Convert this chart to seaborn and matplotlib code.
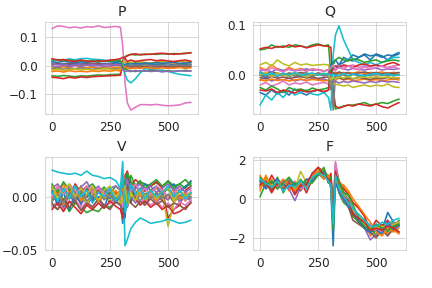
import pandas as pd
import seaborn as sns
import matplotlib.pyplot as plt

# shared time axis (samples, denser round the step at ~300)
TIME = [0, 25, 50, 75, 100, 125, 150, 175, 200, 225, 250, 275, 295, 305,
        315, 325, 340, 360, 380, 400, 425, 450, 475, 500, 525, 550, 575, 599]

# ---- P ----
P_BLUE = [0.01, 0.005, 0.008, 0.004, 0.006, 0.01, 0.005, 0.007, 0.004, 0.008, 0.006, 0.01, 0.008, -0.01, -0.005, -0.002, 0.0, 0.004, 0.002, 0.005, 0.003, 0.006, 0.004, 0.002, 0.005, 0.003, 0.006, 0.004]
P_ORANGE = [-0.005, -0.008, -0.004, -0.006, -0.01, -0.005, -0.007, -0.004, -0.008, -0.006, -0.003, -0.006, -0.005, 0.01, 0.012, 0.008, 0.01, 0.009, 0.011, 0.008, 0.01, 0.012, 0.009, 0.011, 0.01, 0.008, 0.012, 0.01]
P_GREEN = [-0.035, -0.037, -0.034, -0.036, -0.038, -0.035, -0.036, -0.034, -0.032, -0.033, -0.031, -0.03, -0.03, 0.02, 0.032, 0.036, 0.04, 0.038, 0.04, 0.039, 0.041, 0.04, 0.042, 0.041, 0.043, 0.042, 0.044, 0.045]
P_RED = [-0.04, -0.042, -0.045, -0.04, -0.043, -0.039, -0.041, -0.038, -0.037, -0.036, -0.035, -0.034, -0.033, 0.015, 0.03, 0.035, 0.04, 0.042, 0.038, 0.041, 0.04, 0.043, 0.044, 0.042, 0.04, 0.042, 0.043, 0.046]
P_PURPLE = [0.0, -0.004, 0.002, -0.003, 0.001, -0.002, 0.003, -0.001, 0.002, -0.003, 0.0, 0.002, 0.001, -0.012, -0.008, -0.01, -0.006, -0.008, -0.005, -0.007, -0.006, -0.004, -0.006, -0.005, -0.007, -0.004, -0.006, -0.005]
P_BROWN = [0.005, 0.008, 0.004, 0.009, 0.006, 0.003, 0.007, 0.005, 0.008, 0.004, 0.006, 0.003, 0.005, -0.008, -0.004, 0.0, -0.003, -0.001, -0.004, -0.002, 0.0, -0.003, -0.001, -0.002, -0.004, 0.0, -0.002, -0.001]
P_PINK = [0.13, 0.14, 0.138, 0.133, 0.136, 0.132, 0.137, 0.135, 0.14, 0.134, 0.136, 0.138, 0.135, 0.07, -0.06, -0.13, -0.155, -0.145, -0.136, -0.136, -0.137, -0.135, -0.138, -0.14, -0.139, -0.137, -0.13, -0.128]
P_GREY = [-0.01, -0.008, -0.012, -0.009, -0.011, -0.007, -0.01, -0.012, -0.008, -0.01, -0.009, -0.011, -0.01, 0.006, 0.002, 0.004, 0.0, 0.003, 0.001, 0.004, 0.002, 0.0, 0.003, 0.001, 0.002, 0.004, 0.001, 0.003]
P_OLIVE = [-0.015, -0.012, -0.016, -0.013, -0.011, -0.014, -0.012, -0.015, -0.013, -0.01, -0.012, -0.014, -0.012, 0.012, 0.015, 0.01, 0.013, 0.011, 0.014, 0.012, 0.01, 0.013, 0.015, 0.012, 0.014, 0.016, 0.013, 0.015]
P_CYAN = [0.02, 0.022, 0.02, 0.024, 0.021, 0.025, 0.026, 0.023, 0.022, 0.02, 0.018, 0.016, 0.015, 0.005, -0.03, -0.05, -0.06, -0.045, -0.025, -0.01, -0.012, -0.015, -0.015, -0.02, -0.025, -0.03, -0.032, -0.035]
P_BLUE2 = [0.015, 0.012, 0.016, 0.013, 0.011, 0.014, 0.012, 0.015, 0.013, 0.016, 0.014, 0.012, 0.015, -0.002, 0.004, 0.008, 0.006, 0.009, 0.007, 0.01, 0.008, 0.011, 0.009, 0.01, 0.012, 0.008, 0.01, 0.011]
P_ORANGE2 = [-0.02, -0.018, -0.022, -0.017, -0.02, -0.019, -0.021, -0.018, -0.02, -0.017, -0.019, -0.016, -0.018, 0.0, -0.004, -0.008, -0.01, -0.007, -0.009, -0.006, -0.008, -0.01, -0.007, -0.009, -0.008, -0.006, -0.009, -0.007]
P_GREEN2 = [0.022, 0.02, 0.018, 0.02, 0.017, 0.019, 0.016, 0.018, 0.015, 0.017, 0.016, 0.018, 0.02, -0.005, -0.012, -0.015, -0.018, -0.02, -0.017, -0.019, -0.016, -0.018, -0.02, -0.017, -0.019, -0.018, -0.016, -0.018]
P_RED2 = [0.025, 0.02, 0.022, 0.018, 0.015, 0.02, 0.017, 0.014, 0.018, 0.016, 0.02, 0.022, 0.025, 0.03, 0.025, 0.015, 0.02, 0.015, 0.018, 0.02, 0.022, 0.018, 0.02, 0.017, 0.015, 0.018, 0.02, 0.016]
P_PURPLE2 = [0.008, 0.003, 0.006, 0.0, 0.004, 0.007, 0.002, 0.005, 0.001, 0.004, 0.006, 0.003, 0.005, -0.015, -0.02, -0.018, -0.02, -0.016, -0.019, -0.017, -0.02, -0.018, -0.021, -0.019, -0.02, -0.017, -0.019, -0.018]
P_LINES = [P_BLUE, P_ORANGE, P_GREEN, P_RED, P_PURPLE, P_BROWN, P_PINK, P_GREY,
           P_OLIVE, P_CYAN, P_BLUE2, P_ORANGE2, P_GREEN2, P_RED2, P_PURPLE2]

# ---- Q ----
Q_BLUE = [-0.035, -0.04, -0.03, -0.038, -0.032, -0.04, -0.028, -0.035, -0.04, -0.033, -0.03, -0.035, -0.03, 0.02, 0.015, 0.01, 0.02, 0.025, 0.03, 0.028, 0.035, 0.04, 0.03, 0.042, 0.038, 0.03, 0.04, 0.045]
Q_ORANGE = [0.015, 0.01, 0.02, 0.012, 0.008, 0.015, 0.01, 0.013, 0.009, 0.012, 0.01, 0.008, 0.01, -0.005, -0.008, -0.01, -0.006, -0.01, -0.008, -0.012, -0.01, -0.008, -0.011, -0.009, -0.012, -0.01, -0.008, -0.01]
Q_GREEN = [0.05, 0.052, 0.06, 0.055, 0.058, 0.055, 0.06, 0.058, 0.055, 0.06, 0.062, 0.058, 0.06, 0.0, -0.05, -0.068, -0.065, -0.062, -0.06, -0.06, -0.058, -0.055, -0.06, -0.058, -0.055, -0.057, -0.052, -0.048]
Q_RED = [0.052, 0.055, 0.053, 0.057, 0.055, 0.06, 0.056, 0.058, 0.054, 0.057, 0.06, 0.058, 0.057, 0.055, -0.03, -0.062, -0.066, -0.063, -0.06, -0.062, -0.058, -0.06, -0.062, -0.058, -0.063, -0.066, -0.06, -0.055]
Q_PURPLE = [-0.01, -0.005, -0.012, -0.008, -0.01, -0.006, -0.012, -0.009, -0.011, -0.007, -0.01, -0.008, -0.012, 0.01, 0.012, 0.01, 0.015, 0.012, 0.01, 0.013, 0.011, 0.01, 0.012, 0.014, 0.01, 0.012, 0.011, 0.013]
Q_BROWN = [0.005, 0.002, 0.006, 0.003, 0.0, 0.004, 0.002, 0.005, 0.003, 0.0, 0.004, 0.002, 0.003, -0.01, -0.006, -0.008, -0.005, -0.009, -0.006, -0.008, -0.005, -0.007, -0.009, -0.006, -0.008, -0.005, -0.007, -0.006]
Q_PINK = [-0.02, -0.015, -0.022, -0.018, -0.012, -0.02, -0.016, -0.018, -0.014, -0.02, -0.017, -0.015, -0.018, 0.01, 0.015, 0.018, 0.02, 0.016, 0.018, 0.02, 0.015, 0.018, 0.016, 0.02, 0.017, 0.015, 0.018, 0.02]
Q_GREY = [0.0, 0.003, -0.002, 0.004, 0.0, 0.003, -0.003, 0.002, 0.004, -0.002, 0.001, 0.003, 0.0, 0.01, -0.07, 0.0, 0.005, 0.0, -0.005, 0.002, 0.0, -0.003, 0.002, 0.0, 0.003, -0.002, 0.001, 0.0]
Q_OLIVE = [0.02, 0.025, 0.018, 0.03, 0.022, 0.018, 0.025, 0.02, 0.022, 0.019, 0.02, 0.021, 0.02, 0.0, -0.015, -0.018, -0.02, -0.022, -0.02, -0.025, -0.022, -0.02, -0.023, -0.02, -0.022, -0.018, -0.024, -0.025]
Q_CYAN = [-0.06, -0.04, -0.05, -0.035, -0.045, -0.03, -0.04, -0.035, -0.03, -0.038, -0.04, -0.035, -0.045, -0.07, 0.04, 0.08, 0.098, 0.07, 0.05, 0.03, 0.025, 0.02, 0.025, 0.02, 0.025, 0.03, 0.035, 0.035]
Q_BLUE2 = [0.0, -0.005, 0.003, -0.002, 0.004, -0.003, 0.002, -0.004, 0.001, -0.003, 0.002, -0.001, 0.0, 0.02, 0.025, 0.03, 0.02, 0.035, 0.03, 0.04, 0.035, 0.042, 0.038, 0.04, 0.035, 0.04, 0.038, 0.042]
Q_ORANGE2 = [-0.01, -0.012, -0.008, -0.011, -0.009, -0.012, -0.01, -0.008, -0.011, -0.009, -0.01, -0.012, -0.01, 0.005, 0.003, 0.006, 0.002, 0.005, 0.003, 0.004, 0.006, 0.003, 0.005, 0.004, 0.006, 0.003, 0.005, 0.004]
Q_GREEN2 = [-0.025, -0.03, -0.022, -0.028, -0.035, -0.025, -0.03, -0.028, -0.032, -0.026, -0.03, -0.028, -0.025, 0.01, 0.02, 0.03, 0.035, 0.03, 0.028, 0.032, 0.03, 0.025, 0.028, 0.03, 0.025, 0.028, 0.03, 0.028]
Q_RED2 = [-0.03, -0.032, -0.028, -0.035, -0.03, -0.033, -0.036, -0.03, -0.034, -0.032, -0.03, -0.033, -0.03, 0.005, 0.012, 0.018, 0.015, 0.02, 0.018, 0.015, 0.02, 0.022, 0.018, 0.02, 0.017, 0.022, 0.025, 0.02]
Q_PURPLE2 = [0.008, 0.01, 0.006, 0.012, 0.009, 0.011, 0.008, 0.01, 0.012, 0.009, 0.011, 0.008, 0.01, -0.01, -0.015, -0.012, -0.016, -0.013, -0.015, -0.012, -0.014, -0.016, -0.013, -0.015, -0.012, -0.014, -0.013, -0.015]
Q_BROWN2 = [-0.005, -0.008, -0.003, -0.006, -0.004, -0.007, -0.005, -0.003, -0.006, -0.004, -0.007, -0.005, -0.004, 0.0, 0.005, 0.002, 0.006, 0.003, 0.005, 0.002, 0.004, 0.006, 0.003, 0.005, 0.002, 0.004, 0.003, 0.005]
Q_PINK2 = [0.012, 0.008, 0.014, 0.01, 0.006, 0.012, 0.009, 0.011, 0.007, 0.012, 0.01, 0.008, 0.01, 0.015, 0.02, 0.01, 0.015, 0.012, 0.018, 0.014, 0.01, 0.016, 0.012, 0.015, 0.018, 0.013, 0.016, 0.012]
Q_GREY2 = [0.003, -0.003, 0.005, -0.002, 0.002, -0.004, 0.003, -0.001, 0.004, -0.003, 0.002, -0.002, 0.003, -0.03, -0.01, 0.0, -0.005, 0.003, -0.002, 0.002, -0.003, 0.001, -0.002, 0.003, -0.001, 0.002, -0.002, 0.001]
Q_OLIVE2 = [0.0, 0.005, -0.003, 0.004, 0.0, -0.002, 0.003, 0.0, -0.004, 0.002, 0.0, 0.003, 0.0, -0.01, -0.005, -0.008, -0.004, -0.006, -0.003, -0.007, -0.005, -0.004, -0.006, -0.003, -0.005, -0.004, -0.006, -0.005]
Q_CYAN2 = [0.005, 0.0, 0.004, -0.002, 0.003, 0.0, 0.005, -0.001, 0.002, 0.004, 0.0, 0.003, 0.001, 0.0, 0.002, -0.002, 0.0, 0.003, -0.001, 0.002, 0.0, -0.002, 0.001, 0.003, 0.0, 0.002, -0.001, 0.001]
Q_LINES = [Q_BLUE, Q_ORANGE, Q_GREEN, Q_RED, Q_PURPLE, Q_BROWN, Q_PINK, Q_GREY, Q_OLIVE, Q_CYAN,
           Q_BLUE2, Q_ORANGE2, Q_GREEN2, Q_RED2, Q_PURPLE2, Q_BROWN2, Q_PINK2, Q_GREY2, Q_OLIVE2, Q_CYAN2]

# ---- V ----
V_BLUE = [-0.005, 0.004, -0.01, 0.002, -0.006, 0.005, -0.008, 0.0, -0.004, 0.006, -0.002, 0.003, -0.005, -0.025, 0.01, 0.02, 0.005, -0.004, 0.008, 0.002, 0.006, -0.002, 0.004, 0.007, 0.0, 0.005, 0.01, 0.012]
V_ORANGE = [0.008, 0.002, 0.012, 0.0, 0.006, -0.003, 0.009, 0.002, 0.007, -0.002, 0.005, 0.001, 0.004, 0.012, -0.01, 0.005, 0.015, 0.002, 0.006, 0.0, 0.004, 0.008, 0.001, -0.003, 0.005, 0.002, -0.004, 0.003]
V_GREEN = [-0.008, -0.012, -0.004, -0.014, -0.006, -0.01, -0.015, -0.012, -0.014, -0.008, -0.01, -0.005, -0.008, 0.01, -0.015, 0.0, 0.02, 0.01, 0.014, 0.012, 0.01, 0.013, 0.009, 0.015, 0.01, 0.012, 0.008, 0.014]
V_RED = [0.01, -0.005, 0.008, -0.002, 0.012, 0.004, 0.01, -0.004, 0.006, 0.0, 0.008, 0.003, 0.005, -0.01, 0.02, 0.024, 0.01, 0.016, 0.012, 0.005, 0.01, 0.014, 0.008, -0.02, -0.012, -0.008, 0.006, 0.01]
V_PURPLE = [0.004, -0.006, 0.008, -0.002, 0.005, -0.008, 0.002, 0.006, -0.004, 0.003, -0.006, 0.0, 0.004, -0.008, 0.005, -0.01, 0.0, -0.006, 0.003, -0.004, 0.002, -0.006, 0.001, -0.003, 0.004, -0.005, 0.0, -0.004]
V_BROWN = [0.0, 0.008, -0.004, 0.006, -0.002, 0.01, 0.0, 0.005, -0.003, 0.007, 0.001, -0.002, 0.003, 0.006, -0.012, 0.0, 0.008, -0.002, 0.004, -0.006, 0.0, 0.003, -0.004, 0.002, -0.005, 0.001, -0.003, 0.0]
V_PINK = [-0.01, -0.004, -0.012, -0.006, -0.002, -0.011, -0.005, -0.009, -0.003, -0.01, -0.006, -0.004, -0.008, 0.005, 0.018, 0.01, -0.004, 0.0, -0.006, -0.002, -0.008, -0.004, -0.01, -0.006, -0.012, -0.005, -0.008, -0.003]
V_GREY = [0.003, -0.002, 0.006, 0.0, -0.004, 0.004, -0.001, 0.003, -0.003, 0.002, 0.0, -0.002, 0.001, -0.004, 0.006, -0.002, 0.004, 0.0, 0.002, -0.002, 0.003, 0.0, -0.002, 0.002, 0.0, -0.003, 0.002, 0.0]
V_OLIVE = [-0.004, 0.01, -0.006, 0.008, -0.002, 0.006, -0.008, 0.004, -0.005, 0.0, -0.004, 0.002, -0.006, -0.002, 0.012, -0.004, 0.006, 0.0, 0.004, -0.004, 0.002, -0.002, 0.005, -0.028, -0.006, 0.002, -0.004, 0.004]
V_CYAN = [0.025, 0.023, 0.022, 0.021, 0.022, 0.02, 0.024, 0.02, 0.019, 0.017, 0.018, 0.015, 0.008, 0.033, -0.046, -0.04, -0.03, -0.024, -0.02, -0.022, -0.025, -0.024, -0.023, -0.021, -0.023, -0.025, -0.024, -0.022]
V_BLUE2 = [0.006, -0.008, 0.004, -0.012, 0.002, -0.006, 0.008, -0.004, 0.0, -0.01, 0.004, -0.006, 0.002, 0.015, -0.02, 0.012, -0.006, 0.01, 0.004, 0.012, 0.006, 0.01, 0.002, 0.008, 0.012, 0.004, 0.009, 0.015]
V_ORANGE2 = [-0.002, 0.006, -0.008, 0.004, 0.01, -0.004, 0.002, 0.008, -0.006, 0.004, 0.0, 0.006, -0.002, 0.008, 0.004, -0.006, 0.012, 0.006, 0.0, 0.008, 0.002, -0.004, 0.006, 0.0, 0.008, -0.002, 0.004, 0.002]
V_GREEN2 = [0.012, 0.004, 0.014, 0.006, 0.01, 0.002, 0.008, 0.012, 0.004, 0.009, 0.003, 0.01, 0.006, -0.006, 0.016, 0.022, 0.014, 0.01, 0.015, 0.008, 0.012, 0.016, 0.01, 0.014, 0.008, 0.012, 0.016, 0.01]
V_RED2 = [-0.012, -0.006, -0.014, -0.004, -0.01, -0.016, -0.008, -0.012, -0.006, -0.011, -0.004, -0.009, -0.012, -0.02, 0.006, -0.004, 0.01, -0.002, -0.008, -0.004, -0.01, -0.006, -0.012, -0.008, -0.016, -0.014, -0.01, -0.006]
V_PURPLE2 = [0.008, 0.012, 0.004, 0.01, 0.002, 0.009, 0.014, 0.005, 0.01, 0.003, 0.008, 0.01, 0.006, 0.002, 0.01, 0.016, 0.004, 0.008, 0.012, 0.006, 0.01, 0.004, 0.008, 0.012, 0.006, 0.01, 0.004, 0.008]
V_BROWN2 = [-0.006, -0.012, -0.002, -0.01, -0.004, -0.013, -0.006, -0.01, -0.002, -0.008, -0.012, -0.004, -0.008, -0.012, 0.0, 0.01, -0.006, -0.01, -0.004, -0.008, -0.002, -0.007, -0.004, -0.01, -0.006, -0.008, -0.012, -0.005]
V_PINK2 = [0.0, 0.01, 0.002, 0.012, 0.006, 0.0, 0.01, 0.004, 0.008, 0.002, 0.006, 0.0, 0.004, -0.01, 0.008, 0.0, 0.006, 0.012, 0.004, 0.008, 0.002, 0.01, 0.006, 0.0, 0.004, 0.008, -0.004, 0.006]
V_GREY2 = [-0.003, 0.002, -0.006, 0.004, -0.002, 0.006, -0.004, 0.001, 0.005, -0.003, 0.002, -0.004, 0.0, 0.004, -0.008, 0.006, -0.002, 0.002, -0.004, 0.003, -0.002, 0.004, -0.001, 0.002, -0.003, 0.001, 0.002, -0.002]
V_OLIVE2 = [0.01, -0.002, 0.006, 0.012, 0.0, 0.008, 0.002, 0.01, -0.004, 0.006, 0.01, 0.0, 0.005, -0.005, 0.01, -0.008, 0.004, -0.004, 0.008, 0.0, 0.006, -0.002, 0.004, 0.008, -0.004, 0.006, 0.0, 0.004]
V_CYAN2 = [0.004, -0.004, 0.008, -0.002, 0.01, 0.0, 0.006, -0.006, 0.004, 0.0, 0.008, -0.004, 0.002, 0.02, -0.015, -0.005, 0.012, 0.002, 0.008, -0.002, 0.006, 0.0, 0.004, 0.01, 0.0, 0.006, -0.002, 0.004]
V_LINES = [V_BLUE, V_ORANGE, V_GREEN, V_RED, V_PURPLE, V_BROWN, V_PINK, V_GREY, V_OLIVE, V_CYAN,
           V_BLUE2, V_ORANGE2, V_GREEN2, V_RED2, V_PURPLE2, V_BROWN2, V_PINK2, V_GREY2, V_OLIVE2, V_CYAN2]

# ---- F ----
F_BLUE = [0.6, 1.1, 0.4, 0.9, 0.5, 1.0, 0.3, 0.8, 0.6, 1.3, 1.5, 1.2, 1.1, 0.5, -2.4, 1.0, 0.5, 0.1, -0.4, -0.8, -1.2, -1.5, -1.8, -1.3, -1.6, -0.7, -1.2, -1.4]
F_ORANGE = [1.2, 0.7, 1.0, 0.5, 0.9, 0.4, 0.8, 0.5, 1.0, 0.9, 1.3, 1.5, 0.9, 1.1, -0.5, 1.4, 0.9, 0.6, 0.3, -0.2, -0.4, -0.9, -1.9, -1.6, -1.5, -1.8, -1.6, -1.8]
F_GREEN = [0.1, 0.8, 0.5, 1.1, 0.3, 0.9, 0.5, 1.0, 0.5, 1.2, 1.3, 1.0, 1.2, 0.6, -1.6, 0.9, 0.3, -0.2, -0.4, -0.9, -1.2, -1.5, -1.4, -1.9, -1.3, -1.7, -1.4, -1.1]
F_RED = [0.9, 0.6, 1.2, 0.7, 0.5, 0.8, 0.4, 0.9, 0.3, 1.0, 1.6, 1.4, 0.8, 1.3, -0.3, 1.5, 0.8, 0.5, 0.2, -0.2, -0.5, -0.9, -1.6, -1.1, -1.4, -1.1, -1.5, -1.3]
F_PURPLE = [0.7, 1.0, 0.6, 0.8, 0.9, 0.5, -0.1, 0.6, 0.9, 1.0, 1.3, 1.1, 1.0, 0.7, -1.2, 1.1, 0.4, -0.1, -0.3, -0.7, -1.1, -1.5, -2.1, -1.8, -1.5, -1.3, -1.4, -1.2]
F_BROWN = [1.0, 0.8, 0.4, 1.0, 0.6, 0.9, 0.7, 0.4, 0.9, 1.2, 1.5, 1.3, 0.9, 1.0, -0.9, 1.8, 0.9, 0.3, -0.4, -1.1, -1.3, -1.5, -1.7, -2.0, -1.6, -1.9, -1.5, -1.7]
F_PINK = [0.5, 0.9, 0.8, 0.6, 0.8, 0.6, 0.9, 0.5, 0.7, 1.1, 1.4, 1.5, 1.1, 0.9, -0.4, 1.9, 0.6, 0.2, -0.3, -0.6, -0.9, -1.2, -1.3, -1.6, -1.7, -1.4, -1.3, -1.2]
F_GREY = [0.8, 0.7, 0.9, 0.7, 0.6, 1.0, 0.6, 0.8, 0.7, 1.0, 1.3, 1.2, 1.0, 0.8, -0.7, 1.3, 0.7, 0.3, 0.0, -0.5, -0.8, -1.1, -1.5, -1.4, -1.5, -1.4, -1.2, -1.3]
F_OLIVE = [0.6, 1.0, 0.7, 0.9, 0.6, 0.8, 0.5, 1.4, 0.8, 1.1, 1.5, 1.4, 1.0, 0.9, -1.0, 1.0, 0.6, 0.2, -0.1, -0.6, -0.8, -1.3, -1.5, -1.5, -1.4, -1.5, -1.3, -1.2]
F_BLUE2 = [0.9, 0.5, 0.8, 1.0, 0.7, 0.6, 0.8, 0.6, 1.0, 0.9, 1.2, 1.4, 1.1, 1.0, -0.6, 0.8, 0.4, 0.0, -0.4, -0.7, -1.1, -1.5, -1.7, -1.6, -1.8, -1.2, -1.6, -1.4]
F_ORANGE2 = [0.4, 1.2, 0.6, 0.7, 1.0, 0.7, 0.4, 0.8, 0.6, 1.2, 1.4, 1.0, 1.2, 0.6, -0.2, 1.1, 0.8, 0.7, 0.4, 0.0, -0.4, -0.8, -1.2, -1.7, -1.9, -1.5, -1.7, -1.5]
F_GREEN2 = [1.1, 0.7, 0.9, 0.5, 0.8, 1.1, 0.7, 0.9, 0.8, 0.8, 1.2, 1.6, 0.8, 1.1, -1.4, 1.3, 0.9, 0.3, 0.2, -0.3, -1.0, -1.4, -1.6, -1.3, -1.5, -1.6, -1.4, -1.3]
F_RED2 = [0.7, 0.9, 0.3, 0.8, 0.5, 0.8, 0.2, 0.7, 0.7, 1.3, 1.6, 1.2, 1.0, 0.9, -0.8, 1.4, 0.5, 0.1, -0.1, -0.8, -1.0, -1.2, -1.6, -1.5, -1.6, -1.4, -1.5, -1.7]
F_CYAN = [1.0, 0.8, 0.6, 0.9, 0.4, 0.7, 0.6, 0.9, 0.5, 1.1, 1.3, 1.2, 0.9, 0.7, -1.3, 1.2, 0.5, 0.1, -0.2, -0.5, -0.8, -1.1, -1.4, -1.4, -1.2, -1.3, -1.1, -1.0]
F_LINES = [F_BLUE, F_ORANGE, F_GREEN, F_RED, F_PURPLE, F_BROWN, F_PINK, F_GREY, F_OLIVE,
           F_BLUE2, F_ORANGE2, F_GREEN2, F_RED2, F_CYAN]
F_COLOR_IDX = [0, 1, 2, 3, 4, 5, 6, 7, 8, 0, 1, 2, 3, 9]

TAB10 = sns.color_palette("tab10")


def long_frame(lines):
    parts = []
    for i, vals in enumerate(lines):
        parts.append(pd.DataFrame({"t": TIME, "value": vals, "line": f"s{i:02d}"}))
    return pd.concat(parts, ignore_index=True)


def draw(ax, lines, title, yticks, color_idx=None):
    if color_idx is None:
        color_idx = [i % 10 for i in range(len(lines))]
    df = long_frame(lines)
    order = [f"s{i:02d}" for i in range(len(lines))]
    palette = {name: TAB10[c] for name, c in zip(order, color_idx)}
    sns.lineplot(data=df, x="t", y="value", hue="line", hue_order=order,
                 palette=palette, legend=False, linewidth=1.6, ax=ax)
    ax.set_title(title)
    ax.set_xlabel("")
    ax.set_ylabel("")
    ax.set_xticks([0, 250, 500])
    ax.set_yticks(yticks)


sns.set_style("whitegrid")
plt.rcParams.update({"xtick.labelsize": 12, "ytick.labelsize": 12, "axes.titlesize": 14})
fig, axes = plt.subplots(2, 2, figsize=(6, 4), dpi=72)
draw(axes[0, 0], P_LINES, "P", [-0.1, 0.0, 0.1])
draw(axes[0, 1], Q_LINES, "Q", [0.0, 0.1])
draw(axes[1, 0], V_LINES, "V", [-0.05, 0.0])
draw(axes[1, 1], F_LINES, "F", [-2, 0, 2], F_COLOR_IDX)
fig.subplots_adjust(left=0.104, right=0.94, top=0.925, bottom=0.132, wspace=0.36, hspace=0.464)
plt.savefig("out.png", dpi=72)
